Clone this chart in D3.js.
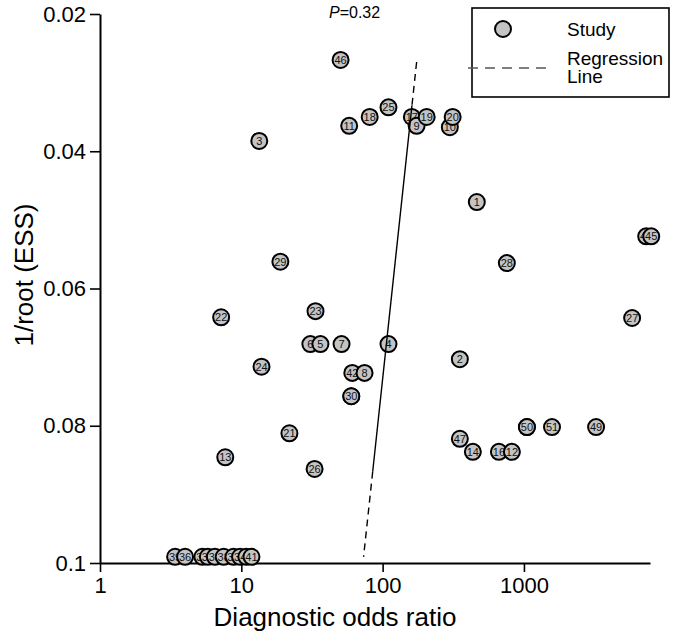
<!DOCTYPE html>
<html><head><meta charset="utf-8">
<script src="https://cdn.jsdelivr.net/npm/d3@7/dist/d3.min.js"></script>
<style>
body{margin:0;background:#fff;}
svg{display:block;font-family:"Liberation Sans",Arial,sans-serif;}
</style></head>
<body><svg id="c" width="675" height="635"></svg>
<script>
// Study labels, diagnostic odds ratios and 1/root(ESS) — drawn in this order
const studyLabels = ["46","25","18","11","17","9","19","10","20","1","3","29","22","23","6","5","24","7","4","42","8","31","30","2","28","44","45","27","47","14","16","12","48","50","51","49","13","21","26","39","36","35","32","33","38","37","34","40","41"];
const dorValues   = [50.4,110,81,58,161,174,205,299,313,464,13.4,18.9,7.2,33.5,30.8,36.3,13.9,51.2,110,61,74.5,60,60,352,757,7330,7960,5830,352,435,665,822,1050,1050,1580,3240,7.7,21.9,33,3.4,4.0,5.3,5.8,6.5,7.5,8.8,9.8,10.85,11.8];
const essValues   = [0.0267,0.0336,0.0350,0.0363,0.0350,0.0363,0.0350,0.0365,0.0350,0.0474,0.0385,0.0561,0.0642,0.0633,0.0681,0.0681,0.0714,0.0681,0.0681,0.0723,0.0723,0.0757,0.0757,0.0703,0.0563,0.0524,0.0524,0.0643,0.0819,0.0838,0.0838,0.0838,0.0802,0.0802,0.0802,0.0802,0.0846,0.0811,0.0863,0.0991,0.0991,0.0991,0.0991,0.0991,0.0991,0.0991,0.0991,0.0991,0.0991];
// Regression line endpoints (1/root(ESS), DOR) and the solid part range
const regEnds  = [[0.0270,174],[0.0991,73.3]];
const regSolid = [0.0333,0.0867];
const xTicks = [1,10,100,1000];
const yTicks = [0.02,0.04,0.06,0.08,0.1];
const pText = "0.32";

const svg = d3.select("#c");
const x = d3.scaleLog().domain([1,7800]).range([100,650]);
const y = d3.scaleLinear().domain([0.02,0.1]).range([14,563]);

// axes
const yAx = svg.append("g").attr("transform","translate(100,0)")
  .call(d3.axisLeft(y).tickValues(yTicks).tickFormat(d=>String(d)).tickSize(10).tickSizeOuter(0).tickPadding(4));
const xAx = svg.append("g").attr("transform","translate(0,563)")
  .call(d3.axisBottom(x).tickValues(xTicks).tickFormat(d=>String(d)).tickSize(9).tickSizeOuter(0).tickPadding(5));
[yAx,xAx].forEach(g=>{
  g.selectAll("path.domain").attr("stroke","#000").attr("stroke-width",2);
  g.selectAll(".tick line").attr("stroke","#000").attr("stroke-width",1.6);
  g.selectAll(".tick text").attr("fill","#000").style("font-size","22px").style("font-family","'Liberation Sans',Arial,sans-serif");
});

// axis titles
svg.append("text").attr("x",335).attr("y",626).attr("text-anchor","middle")
  .style("font-size","26px").text("Diagnostic odds ratio");
svg.append("text").attr("transform","translate(33,275) rotate(-90)").attr("text-anchor","middle")
  .style("font-size","26px").text("1/root (ESS)");

// P value
const pt = svg.append("text").attr("x",329).attr("y",18).style("font-size","16px");
pt.append("tspan").style("font-style","italic").text("P");
pt.append("tspan").text("="+pText);

// points
const pts = studyLabels.map((l,i)=>({l, d:dorValues[i], e:essValues[i]}));
const g = svg.append("g");
const pg = g.selectAll("g.pt").data(pts).join("g").attr("class","pt")
  .attr("transform",d=>`translate(${x(d.d)},${y(d.e)})`);
pg.append("circle").attr("r",8).attr("fill","#c4c4c4").attr("stroke","#000").attr("stroke-width",2);
pg.append("text").attr("text-anchor","middle").attr("dy","0.36em").style("font-size","11px").attr("fill","#111").text(d=>d.l);

// regression line
const lnx = e => {
  const [a,b] = regEnds;
  const t = (e-a[0])/(b[0]-a[0]);
  return Math.pow(10, Math.log10(a[1]) + t*(Math.log10(b[1])-Math.log10(a[1])));
};
const seg = (e0,e1,dash)=>svg.append("line")
  .attr("x1",x(lnx(e0))).attr("y1",y(e0)).attr("x2",x(lnx(e1))).attr("y2",y(e1))
  .attr("stroke","#000").attr("stroke-width",1.4).attr("stroke-dasharray",dash);
seg(regEnds[0][0],regSolid[0],"7,5");
seg(regSolid[0],regSolid[1],null);
seg(regSolid[1],regEnds[1][0],"7,5");

// legend
svg.append("rect").attr("x",472).attr("y",8).attr("width",197).attr("height",89)
  .attr("fill","#fff").attr("stroke","#000").attr("stroke-width",1.6);
svg.append("circle").attr("cx",503).attr("cy",29).attr("r",8).attr("fill","#c4c4c4").attr("stroke","#000").attr("stroke-width",2);
svg.append("text").attr("x",567).attr("y",36).style("font-size","19px").text("Study");
svg.append("line").attr("x1",468).attr("x2",553).attr("y1",68).attr("y2",68)
  .attr("stroke","#555").attr("stroke-width",1.4).attr("stroke-dasharray","10,7");
svg.append("text").attr("x",567).attr("y",65).style("font-size","19px").text("Regression");
svg.append("text").attr("x",567).attr("y",83).style("font-size","19px").text("Line");
</script></body></html>
